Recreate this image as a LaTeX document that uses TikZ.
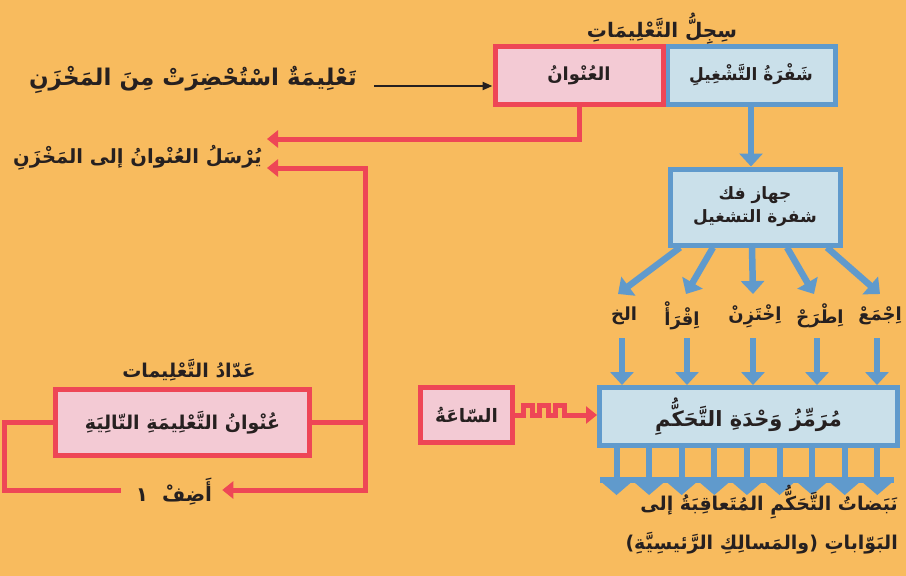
\documentclass[tikz,border=0pt]{standalone}
\usepackage{fontspec}
\usetikzlibrary{arrows.meta,calc}
\TeXXeTstate=1
\newfontfamily\arabicfont[Script=Arabic]{DejaVu Sans}
\newcommand\artxt[1]{{\arabicfont\bfseries\beginR #1\endR}}
\newcommand\fsz[1]{\fontsize{#1}{#1}\selectfont}
\definecolor{bgc}{RGB}{248,187,94}
\definecolor{redc}{RGB}{238,70,86}
\definecolor{pinkc}{RGB}{243,202,212}
\definecolor{bluec}{RGB}{96,154,204}
\definecolor{lbluec}{RGB}{202,224,234}
\definecolor{txtc}{RGB}{38,32,32}
\begin{document}
\begin{tikzpicture}[x=1pt,y=-1pt,
  redbox/.style={draw=redc,fill=pinkc,line width=5pt,inner sep=0pt,text=txtc,font=\fsz{18}},
  bluebox/.style={draw=bluec,fill=lbluec,line width=5pt,inner sep=0pt,text=txtc,font=\fsz{17}},
  lbl/.style={inner sep=0pt,text=txtc,font=\fsz{19}},
  redline/.style={draw=redc,line width=5pt},
  redarrow/.style={draw=redc,line width=5pt,-{Triangle[length=11pt,width=17pt]}},
  bluearrow/.style={draw=bluec,line width=6.5pt,-{Triangle[length=13pt,width=23pt]}},
  blkarrow/.style={draw=txtc,line width=2.2pt,-{Triangle[length=10pt,width=8pt]}}]
\fill[bgc] (0,0) rectangle (906,576);
\useasboundingbox (0,0) rectangle (906,576);

% instruction register
\node[lbl,font=\fsz{20}] (regt) at (662,29) {\artxt{سِجِلُّ التَّعْلِيمَاتِ}};
\node[bluebox,minimum width=168pt,minimum height=58pt] (opc) at (751,75) {\artxt{شَفْرَةُ التَّشْغِيلِ}};
\node[redbox,minimum width=168pt,minimum height=58pt] (addr) at (579,75) {\artxt{العُنْوانُ}};

% fetched instruction
\node[lbl,anchor=east,font=\fsz{23}] (fetch) at (357,80) {\artxt{تَعْلِيمَةٌ اسْتُحْضِرَتْ مِنَ المَخْزَنِ}};
\coordinate (fs) at (374,86);
\draw[blkarrow] (fs) -- (fs -| addr.west);

% send address
\node[lbl,anchor=east,font=\fsz{19.5}] (send) at (262,158) {\artxt{يُرْسَلُ العُنْوانُ إلى المَخْزَنِ}};
\draw[redarrow] (addr.south) |- ($(send.east)+(5,-19)$);

% program counter
\node[lbl] (ctrt) at (189,370) {\artxt{عَدّادُ التَّعْلِيمات}};
\node[redbox,minimum width=254pt,minimum height=66pt,font=\fsz{19}] (ctr) at (182.5,422.5) {\artxt{عُنْوانُ التَّعْلِيمَةِ التّالِيَةِ}};
\coordinate (jn) at (365,422.5);
\coordinate (lc) at (4,0);
\draw[redline] (ctr.east) -- (jn);
\draw[redarrow] (jn) |- ($(send.east)+(5,10)$);
\node[lbl,font=\fsz{20}] (add) at (174,492) {\artxt{أَضِفْ\ \ ١}};
\draw[redarrow] (jn) |- ($(add.east)+(10,-2)$);
\draw[redline] ($(add.west)+(-15,-2)$) -- ($(add.west -| lc)+(0,-2)$) |- (ctr.west);

% decoder
\node[bluebox,minimum width=170pt,minimum height=76pt,align=center] (dec) at (755,207)
  {\artxt{جهاز فك}\\[5pt]\artxt{شفرة التشغيل}};
\draw[bluearrow] (opc.south) -- (opc.south |- dec.north);

% operations
\node[lbl,font=\fsz{18}] (l1) at (880,316) {\artxt{اِجْمَعْ}};
\node[lbl,font=\fsz{18}] (l2) at (820,316) {\artxt{اِطْرَحْ}};
\node[lbl,font=\fsz{18}] (l3) at (755,316) {\artxt{اِخْتَزِنْ}};
\node[lbl,font=\fsz{18}] (l4) at (682,316) {\artxt{اِقْرَأْ}};
\node[lbl,font=\fsz{18}] (l5) at (624,316) {\artxt{الخ}};
\draw[bluearrow] ($(dec.south)+(72,0)$) -- ($(l1)+(0,-22)$);
\draw[bluearrow] ($(dec.south)+(32,0)$) -- ($(l2)+(-6,-22)$);
\draw[bluearrow] ($(dec.south)+(-3,0)$) -- ($(l3)+(-2,-22)$);
\draw[bluearrow] ($(dec.south)+(-42,0)$) -- ($(l4)+(4,-22)$);
\draw[bluearrow] ($(dec.south)+(-75,0)$) -- ($(l5)+(-6,-22)$);

% control unit
\node[bluebox,minimum width=298pt,minimum height=58pt,font=\fsz{21}] (ctl) at (748.5,416.5) {\artxt{مُرَمِّزُ وَحْدَةِ التَّحَكُّمِ}};
\foreach \n/\dx in {l1/-3,l2/-3,l3/-2,l4/5,l5/-2}
  \draw[bluearrow] ($(\n)+(\dx,22)$) -- ($(\n |- ctl.north)+(\dx,0)$);

% clock
\node[redbox,minimum width=92pt,minimum height=55pt,font=\fsz{18.5}] (clk) at (466.5,415) {\artxt{السّاعَةُ}};
\draw[redarrow] (clk.east) -- ++(8,0) -- ++(0,-10) -- ++(9,0) -- ++(0,10) -- ++(7,0)
  -- ++(0,-10) -- ++(9,0) -- ++(0,10) -- ++(7,0) -- ++(0,-10) -- ++(9,0) -- ++(0,10)
  -- (clk.east -| ctl.west);

% control pulses
\foreach \i in {0,...,8}{
  \draw[draw=bluec,line width=6pt] ($(ctl.south west)+(19.5+32.6*\i,0)$) -- ++(0,34);
  \fill[bluec] ($(ctl.south west)+(3.2+32.6*\i,33)$) -- ++(32.6,0) -- ++(-16.3,14) -- cycle;
}
\fill[bluec] ($(ctl.south west)+(3.2,29)$) rectangle ($(ctl.south west)+(296.6,35)$);

\node[lbl,anchor=north east,align=right,font=\fontsize{19}{39}\selectfont] (pulse) at (898,485)
  {\artxt{نَبَضاتُ التَّحَكُّمِ المُتَعاقِبَةُ إلى}\\\artxt{البَوّاباتِ (والمَسالِكِ الرَّئيسِيَّةِ)}};
\end{tikzpicture}
\end{document}
